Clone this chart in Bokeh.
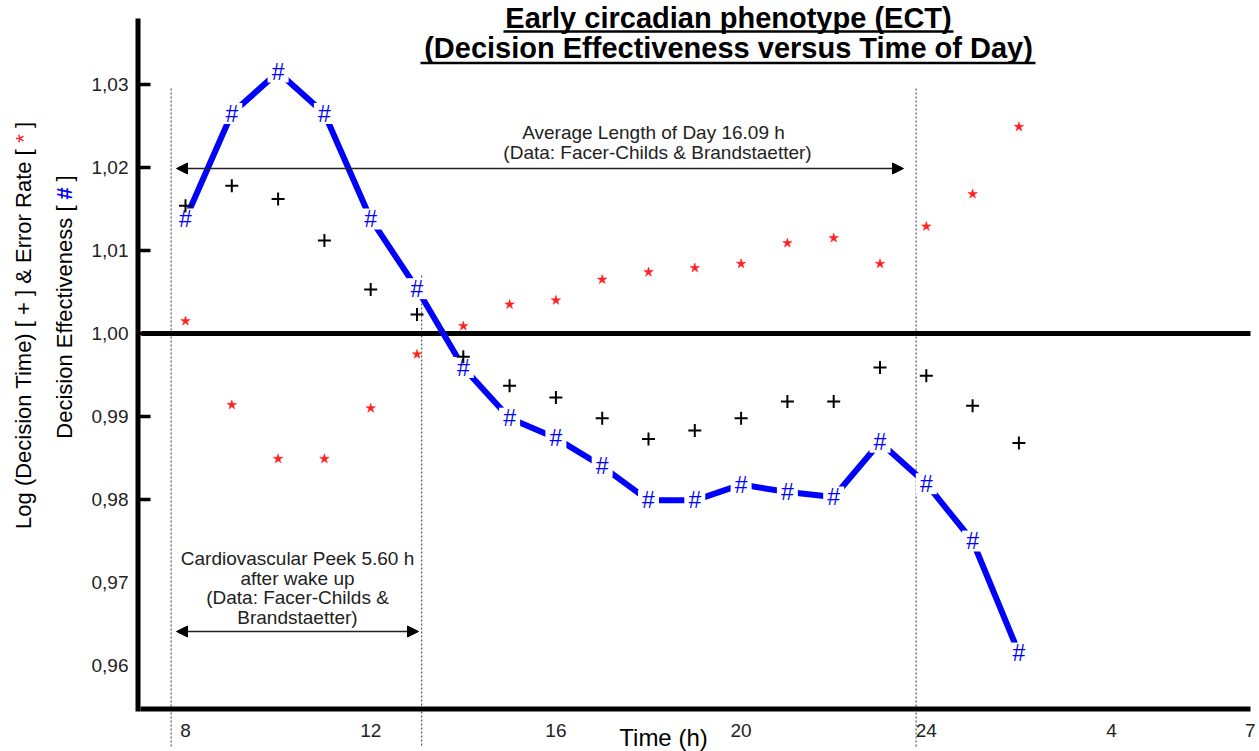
import numpy as np
from bokeh.plotting import figure
from bokeh.models import Range1d, Label, Arrow, NormalHead, ColumnDataSource
from bokeh.core.properties import value
from bokeh.embed import file_html
from bokeh.resources import INLINE

# ---------------- data ----------------
hours = [8, 9, 10, 11, 12, 13, 14, 15, 16, 17, 18, 19, 20, 21, 22, 23, 24, 25, 26]
effectiveness = [1.0138, 1.0265, 1.0315, 1.0265, 1.0138, 1.0054, 0.9959, 0.9898, 0.9874,
                 0.9840, 0.9799, 0.9799, 0.9818, 0.9809, 0.9803, 0.9869, 0.9819, 0.9750, 0.9615]
log_decision_time = [1.0154, 1.0178, 1.0162, 1.0112, 1.0053, 1.0023, 0.9972, 0.9937, 0.9923,
                     0.9898, 0.9873, 0.9883, 0.9898, 0.9918, 0.9918, 0.9959, 0.9949, 0.9913, 0.9868]
error_rate = [1.0015, 0.9914, 0.9849, 0.9849, 0.9910, 0.9975, 1.0009, 1.0035, 1.0040,
              1.0065, 1.0074, 1.0079, 1.0084, 1.0109, 1.0115, 1.0084, 1.0129, 1.0168, 1.0249]
x_tick_pos = [8, 12, 16, 20, 24, 28, 31]
x_tick_labels = ["8", "12", "16", "20", "24", "4", "7"]
y_ticks = [0.96, 0.97, 0.98, 0.99, 1.00, 1.01, 1.02, 1.03]
y_tick_labels = ["0,96", "0,97", "0,98", "0,99", "1,00", "1,01", "1,02", "1,03"]
y_tick_marks = [0.98, 0.99, 1.00, 1.01, 1.02, 1.03]
wake_up = 7.69
cardio_peak = 13.10
day_end = 23.78

# ---------------- layout helpers (canvas pixel -> data) ----------------
W, H = 1259, 751
PX_H = 46.3      # pixels per hour
PX_V = 8300.0    # pixels per unit
def hx(px):
    return 8 + (px - 185) / PX_H
def vy(py):
    return 1 + (333 - py) / PX_V

FONT = "Liberation Sans"

p = figure(width=W, height=H, x_range=Range1d(hx(0), hx(W)), y_range=Range1d(vy(H), vy(0)),
           output_backend="svg", toolbar_location=None, title=None,
           x_axis_location=None, y_axis_location=None,
           min_border_left=0, min_border_right=0, min_border_top=0, min_border_bottom=0)
p.outline_line_color = None
p.xgrid.visible = False
p.ygrid.visible = False
p.background_fill_color = "white"
p.border_fill_color = "white"

# dotted vertical guide lines
p.segment(x0=[wake_up, cardio_peak, day_end], y0=[vy(88), vy(275), vy(88)],
          x1=[wake_up, cardio_peak, day_end], y1=[vy(746)] * 3,
          line_color="#555555", line_width=1.2, line_dash="2 2")

# axes drawn with the plot's scales
p.segment(x0=[hx(137.5)], y0=[vy(711)], x1=[hx(137.5)], y1=[vy(18)], line_color="black", line_width=5)
p.segment(x0=[hx(140)], y0=[vy(708.5)], x1=[hx(1250)], y1=[vy(708.5)], line_color="black", line_width=5)
p.segment(x0=[hx(138)] * len(y_tick_marks), y0=y_tick_marks,
          x1=[hx(150)] * len(y_tick_marks), y1=y_tick_marks, line_color="black", line_width=3.5)
# reference line at 1,00
p.segment(x0=[hx(141)], y0=[1.0], x1=[hx(1250)], y1=[1.0], line_color="black", line_width=5)

# tick labels
yt = ColumnDataSource(dict(x=[hx(128)] * len(y_ticks), y=y_ticks, t=y_tick_labels))
p.text(x="x", y="y", text="t", source=yt, text_align="right", text_baseline="middle",
       text_font=value(FONT), text_font_size=value("19px"), text_color="#222222")
xt = ColumnDataSource(dict(x=x_tick_pos, y=[vy(730)] * len(x_tick_pos), t=x_tick_labels))
p.text(x="x", y="y", text="t", source=xt, text_align="center", text_baseline="middle",
       text_font=value(FONT), text_font_size=value("19px"), text_color="#222222")

# arrows
for xs, xe, yy in [(hx(176), hx(903), vy(168)), (hx(176), hx(418), vy(631))]:
    p.add_layout(Arrow(start=NormalHead(size=11, fill_color="black", line_color="black"),
                       end=NormalHead(size=11, fill_color="black", line_color="black"),
                       x_start=xs, y_start=yy, x_end=xe, y_end=yy,
                       line_color="#222222", line_width=1.5))

# series
src = ColumnDataSource(dict(h=hours, eff=effectiveness, ldt=log_decision_time, err=error_rate))
p.line(x="h", y="eff", source=src, line_color="#0000ff", line_width=6)
p.scatter(x="h", y="eff", source=src, marker="square", size=21, fill_color="white", line_color=None)
p.text(x="h", y="eff", source=src, text=value("#"), text_align="center", text_baseline="middle",
       text_font=value(FONT), text_font_size=value("23px"), text_color="#0000ff")
p.scatter(x="h", y="ldt", source=src, marker="cross", size=13, line_width=2, line_color="black")
p.scatter(x="h", y="err", source=src, marker="star", size=10, fill_color="#ff2020",
          line_color="#ff2020", line_width=0.5)

def lab(text, px, py, size, bold=False, color="black", align="center", angle=0.0):
    p.add_layout(Label(x=hx(px), y=vy(py), text=text, text_align=align, text_baseline="middle",
                       angle=angle, text_font=FONT, text_font_size=size, text_color=color,
                       text_font_style="bold" if bold else "normal"))

# title with underlines
lab("Early circadian phenotype (ECT)", 728, 17.5, "29px", bold=True)
lab("(Decision Effectiveness versus Time of Day)", 728, 47.5, "29px", bold=True)
p.segment(x0=[hx(503), hx(420)], y0=[vy(31), vy(62.5)],
          x1=[hx(953), hx(1035)], y1=[vy(31), vy(62.5)],
          line_color="black", line_width=2.5)

# annotations
lab("Average Length of Day 16.09 h", 653, 131.5, "19px", color="#222222")
lab("(Data: Facer-Childs & Brandstaetter)", 657, 151.5, "19px", color="#222222")
for i, t in enumerate(["Cardiovascular Peek 5.60 h", "after wake up",
                       "(Data: Facer-Childs &", "Brandstaetter)"]):
    lab(t, 297, 558 + i * 19.6, "19px", color="#222222")

# axis titles
lab("Time (h)", 663, 737, "24px")
a = np.pi / 2
lab("Log (Decision Time) [ + ] & Error Rate [", 23, 148.4, "22px", align="right", angle=a)
lab("*", 23, 138, "22px", color="#ff2020", align="center", angle=a)
lab("]", 23, 127.6, "22px", align="left", angle=a)
lab("Decision Effectiveness [", 63.5, 205, "22px", align="right", angle=a)
lab("#", 63.5, 193, "22px", color="#0000ff", bold=True, align="center", angle=a)
lab("]", 63.5, 181, "22px", align="left", angle=a)

open("out.html", "w").write(file_html(p, INLINE))
